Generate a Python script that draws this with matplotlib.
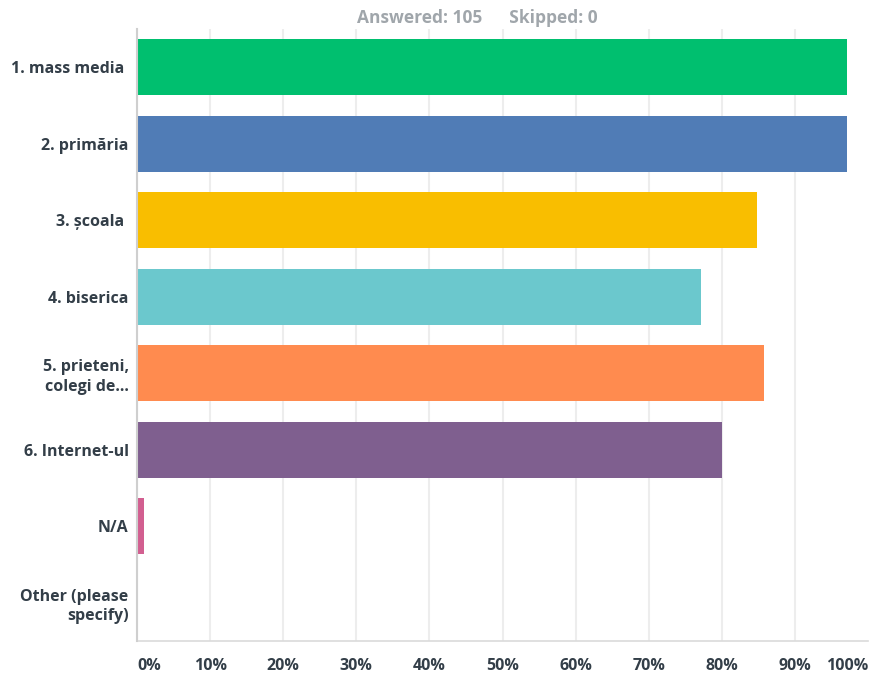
import matplotlib.pyplot as plt
import numpy as np

categories = ["1. mass media ", "2. primăria", "3. școala ", "4. biserica",
              "5. prieteni,\ncolegi de...", "6. Internet-ul", "N/A",
              "Other (please\nspecify)"]
percent = [97.14, 97.14, 84.76, 77.14, 85.71, 80.00, 0.95, 0.0]
colors = ["#00BF6F", "#507CB6", "#F9BE00", "#6BC8CD", "#FF8B4F",
          "#7F5F8F", "#D25F90", "#B5B5B5"]
xticks = list(range(0, 101, 10))
xtick_labels = [f"{t}%" for t in xticks]

plt.rcParams['font.family'] = ['Open Sans', 'DejaVu Sans']
text_color = "#333E48"

fig = plt.figure(figsize=(8.69, 6.77), dpi=100)
ax = fig.add_axes([137 / 869, 1 - 641 / 677, 731 / 869, 612 / 677])

y = np.arange(len(categories))
ax.barh(y, percent, height=0.73, color=colors, zorder=3)

ax.set_xlim(0, 100)
ax.set_ylim(len(categories) - 0.5, -0.5)
ax.set_yticks(y)
ax.set_yticklabels(categories, fontsize=11.5, fontweight='bold',
                   color=text_color, linespacing=1.3)
ax.set_xticks(xticks)
ax.set_xticklabels(xtick_labels, fontsize=11.5, fontweight='bold',
                   color=text_color)
labels = ax.get_xticklabels()
labels[0].set_ha('left')
labels[-1].set_ha('right')

ax.tick_params(axis='y', length=0, pad=6)
ax.tick_params(axis='x', length=0, pad=12)

ax.grid(axis='x', color='#EDEDED', linewidth=1.5, zorder=0)
ax.get_xgridlines()[-1].set_visible(False)
for side in ['top', 'right']:
    ax.spines[side].set_visible(False)
ax.spines['left'].set_color('#CFCFCF')
ax.spines['left'].set_linewidth(1.5)
ax.spines['bottom'].set_color('#DADADA')
ax.spines['bottom'].set_linewidth(1.2)
ax.spines['left'].set_zorder(4)

fig.text(477 / 869, 1 - 18 / 677, "Answered: 105      Skipped: 0",
         ha='center', va='center', fontsize=12.5, fontweight='bold',
         color='#A0A6AB')

plt.savefig("out.png", dpi=100)
